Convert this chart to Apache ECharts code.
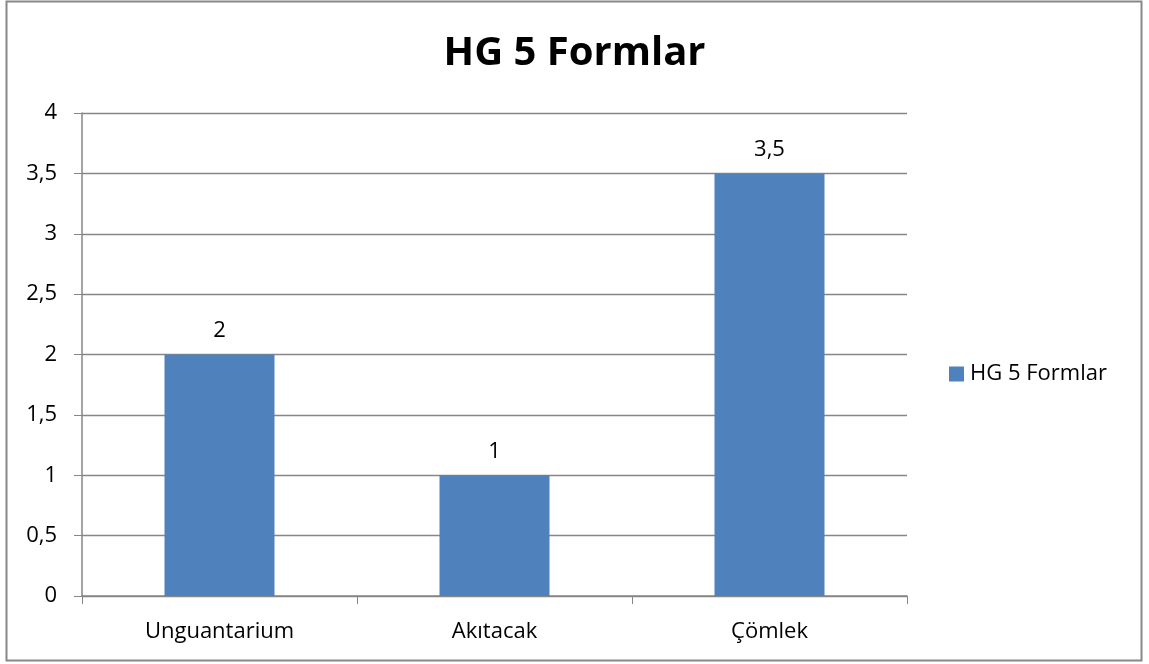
<!DOCTYPE html>
<html><head><meta charset="utf-8">
<script src="https://cdn.jsdelivr.net/npm/echarts@6/dist/echarts.min.js"></script>
<style>html,body{margin:0;padding:0;background:#fff}#c{width:1149px;height:664px}</style>
</head><body><div id="c"></div>
<script>
const categories = ['Unguantarium', 'Akıtacak', 'Çömlek'];
const seriesName = 'HG 5 Formlar';
const values = [2, 1, 3.5];
const titleText = 'HG 5 Formlar';

const chart = echarts.init(document.getElementById('c'));
const fmt = v => String(v).replace('.', ',');
const font = 'Open Sans, sans-serif';
chart.setOption({
  animation: false,
  backgroundColor: '#fff',
  title: { text: titleText, left: 'center', top: 29, textStyle: { fontFamily: font, fontSize: 40, fontWeight: 'bold', color: '#000' } },
  graphic: [{ type: 'rect', shape: { x: 6.5, y: 1.5, width: 1135, height: 659 }, style: { fill: 'none', stroke: '#888', lineWidth: 2 } }],
  legend: { left: 944, top: 358, itemWidth: 15, itemHeight: 15, icon: 'rect', itemGap: 8,
    textStyle: { fontFamily: font, fontSize: 22, color: '#000', padding: [0, 0, 0, 1] } },
  grid: { left: 82, right: 242, top: 113, bottom: 68 },
  xAxis: { type: 'category', data: categories,
    axisLine: { lineStyle: { color: '#868686', width: 1.5 } },
    axisTick: { show: true, length: 8, lineStyle: { color: '#868686' } },
    axisLabel: { fontFamily: font, fontSize: 22, color: '#000', margin: 25 } },
  yAxis: { type: 'value', min: 0, max: 4, interval: 0.5,
    axisLine: { show: true, lineStyle: { color: '#868686', width: 1.5 } },
    axisTick: { show: true, length: 8, lineStyle: { color: '#868686' } },
    splitLine: { lineStyle: { color: '#868686', width: 1.3 } },
    axisLabel: { fontFamily: font, fontSize: 22, color: '#000', margin: 25, formatter: fmt } },
  series: [{ name: seriesName, type: 'bar', data: values, barWidth: '40%',
    itemStyle: { color: '#4F81BD' },
    label: { show: true, position: 'top', distance: 13, fontFamily: font, fontSize: 22, color: '#000', formatter: p => fmt(p.value) } }]
});
</script></body></html>
